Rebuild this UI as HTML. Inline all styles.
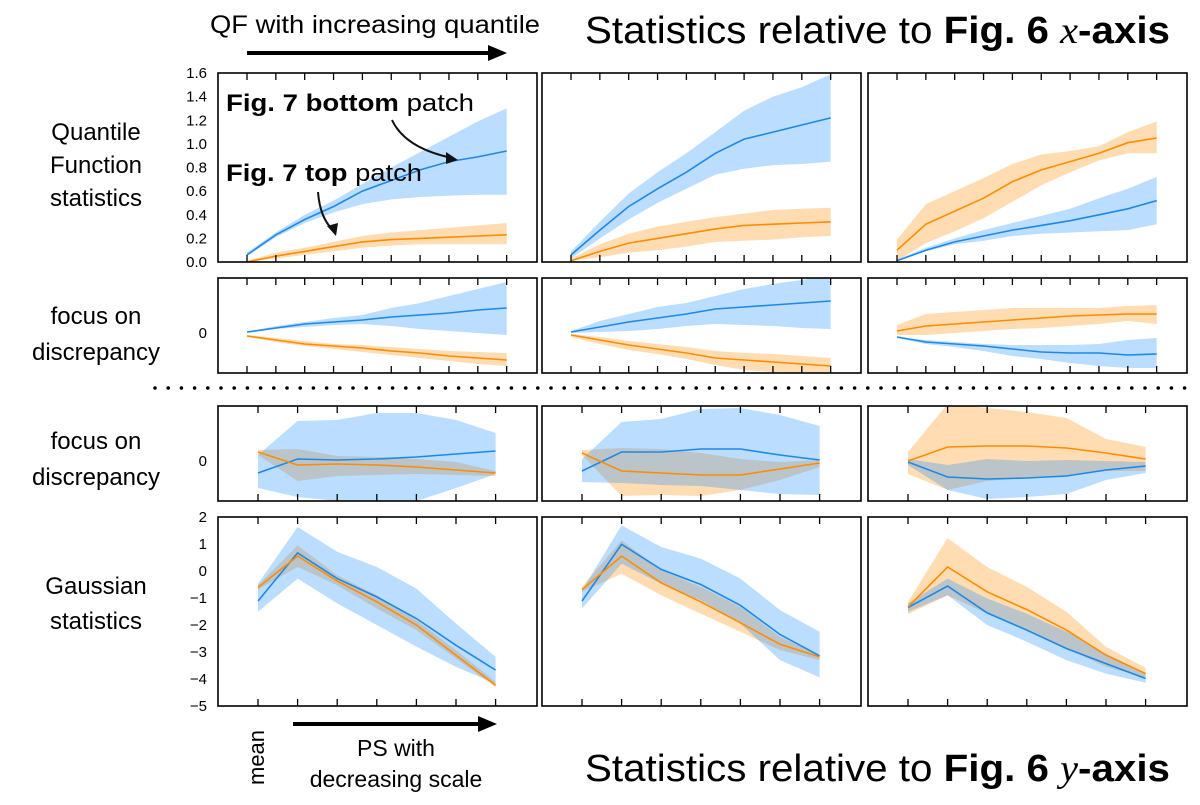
<!DOCTYPE html>
<html><head><meta charset="utf-8">
<style>
html,body{margin:0;padding:0;background:#fff;}
svg{display:block;font-family:"Liberation Sans",sans-serif;}
</style></head>
<body>
<svg id="fig" width="1200" height="805" viewBox="0 0 1200 805" xmlns="http://www.w3.org/2000/svg">
  <g id="marks"></g>
  <g>
    <text x="210" y="33" font-size="25" textLength="330" lengthAdjust="spacingAndGlyphs">QF with increasing quantile</text>
    <line x1="247" y1="53" x2="492" y2="53" stroke="#000" stroke-width="4"/>
    <polygon points="507,53 488,45 488,61" fill="#000"/>
    <text x="585" y="43" font-size="38" textLength="585" lengthAdjust="spacingAndGlyphs">Statistics relative to <tspan font-weight="bold">Fig. 6 </tspan><tspan font-family="Liberation Serif" font-style="italic">x</tspan><tspan font-weight="bold">-axis</tspan></text>
    <text x="585" y="781" font-size="38" textLength="585" lengthAdjust="spacingAndGlyphs">Statistics relative to <tspan font-weight="bold">Fig. 6 </tspan><tspan font-family="Liberation Serif" font-style="italic">y</tspan><tspan font-weight="bold">-axis</tspan></text>
    <text transform="translate(264,785) rotate(-90)" font-size="22">mean</text>
    <line x1="293" y1="724" x2="482" y2="724" stroke="#000" stroke-width="4"/>
    <polygon points="497,724 478,716 478,732" fill="#000"/>
    <text x="396" y="756" font-size="23" text-anchor="middle">PS with</text>
    <text x="396" y="787" font-size="23" text-anchor="middle">decreasing scale</text>
    <g font-size="24" text-anchor="middle">
      <text x="96" y="140">Quantile</text>
      <text x="96" y="173">Function</text>
      <text x="96" y="206">statistics</text>
      <text x="96" y="324">focus on</text>
      <text x="96" y="360">discrepancy</text>
      <text x="96" y="449">focus on</text>
      <text x="96" y="485">discrepancy</text>
      <text x="96" y="594">Gaussian</text>
      <text x="96" y="629">statistics</text>
    </g>
    <text x="226" y="111" font-size="24" textLength="248" lengthAdjust="spacingAndGlyphs"><tspan font-weight="bold">Fig. 7 bottom</tspan> patch</text>
    <text x="226" y="181" font-size="24" textLength="196" lengthAdjust="spacingAndGlyphs"><tspan font-weight="bold">Fig. 7 top</tspan> patch</text>
    <path d="M392,120 Q405,148 452,158" fill="none" stroke="#111" stroke-width="2"/>
    <polygon points="458,160 446,152 446,164" fill="#111"/>
    <path d="M318,192 Q320,218 333,230" fill="none" stroke="#111" stroke-width="2"/>
    <polygon points="336,236 327,226 338,223" fill="#111"/>
  </g>
</svg>
<script>
// ---------- data ----------
const row1Ticks = ["0.0","0.2","0.4","0.6","0.8","1.0","1.2","1.4","1.6"];
const row4Ticks = ["2","1","0","\u22121","\u22122","\u22123","\u22124","\u22125"];
// Row 1: Quantile function statistics (10 quantiles)
const r1c1BlueMean = [0.06,0.23,0.36,0.47,0.6,0.69,0.78,0.85,0.89,0.94];
const r1c1BlueHi   = [0.08,0.25,0.40,0.52,0.66,0.80,0.93,1.06,1.19,1.30];
const r1c1BlueLo   = [0.05,0.21,0.33,0.42,0.49,0.53,0.55,0.56,0.57,0.57];
const r1c1OrMean   = [0.0,0.05,0.09,0.13,0.17,0.19,0.2,0.21,0.22,0.23];
const r1c1OrHi     = [0.01,0.08,0.12,0.17,0.22,0.25,0.27,0.29,0.31,0.33];
const r1c1OrLo     = [0,0.03,0.06,0.09,0.12,0.14,0.15,0.15,0.15,0.15];
const r1c2BlueMean = [0.06,0.27,0.47,0.62,0.76,0.92,1.04,1.10,1.16,1.22];
const r1c2BlueHi   = [0.09,0.34,0.58,0.76,0.92,1.10,1.28,1.40,1.48,1.59];
const r1c2BlueLo   = [0.03,0.2,0.36,0.5,0.62,0.74,0.79,0.82,0.83,0.85];
const r1c2OrMean   = [0.01,0.09,0.16,0.2,0.24,0.28,0.31,0.32,0.33,0.34];
const r1c2OrHi     = [0.03,0.15,0.24,0.3,0.34,0.38,0.41,0.44,0.45,0.46];
const r1c2OrLo     = [0.01,0.04,0.08,0.1,0.13,0.17,0.18,0.19,0.21,0.22];
const r1c3BlueMean = [0.01,0.1,0.17,0.22,0.27,0.31,0.35,0.4,0.45,0.52];
const r1c3BlueHi   = [0.02,0.12,0.2,0.27,0.33,0.39,0.45,0.54,0.62,0.72];
const r1c3BlueLo   = [0.01,0.09,0.15,0.18,0.22,0.24,0.25,0.26,0.27,0.32];
const r1c3OrMean   = [0.1,0.32,0.43,0.54,0.68,0.78,0.85,0.92,1.01,1.05];
const r1c3OrHi     = [0.19,0.49,0.6,0.71,0.83,0.91,0.94,0.98,1.1,1.19];
const r1c3OrLo     = [0.01,0.16,0.26,0.37,0.51,0.65,0.76,0.86,0.92,0.92];
// Row 2: QF focus on discrepancy
const r2c1BlueMean = [0.01,0.05,0.09,0.11,0.13,0.16,0.18,0.2,0.23,0.25];
const r2c1BlueHi   = [0.01,0.07,0.11,0.15,0.18,0.25,0.3,0.37,0.44,0.51];
const r2c1BlueLo   = [0,0.04,0.06,0.08,0.09,0.07,0.04,0.02,0,-0.02];
const r2c1OrMean   = [-0.03,-0.07,-0.11,-0.13,-0.15,-0.18,-0.2,-0.23,-0.25,-0.27];
const r2c1OrHi     = [-0.02,-0.05,-0.08,-0.11,-0.12,-0.14,-0.16,-0.18,-0.19,-0.2];
const r2c1OrLo     = [-0.04,-0.09,-0.13,-0.16,-0.19,-0.22,-0.25,-0.28,-0.31,-0.33];
const r2c2BlueMean = [0.01,0.06,0.11,0.15,0.19,0.24,0.26,0.28,0.3,0.32];
const r2c2BlueHi   = [0.02,0.12,0.19,0.26,0.3,0.37,0.44,0.49,0.53,0.58];
const r2c2BlueLo   = [0,0.01,0.02,0.04,0.07,0.09,0.08,0.07,0.05,0.04];
const r2c2OrMean   = [-0.02,-0.07,-0.12,-0.16,-0.2,-0.25,-0.27,-0.29,-0.31,-0.33];
const r2c2OrHi     = [-0.01,-0.04,-0.08,-0.11,-0.14,-0.18,-0.2,-0.21,-0.23,-0.25];
const r2c2OrLo     = [-0.04,-0.11,-0.17,-0.21,-0.26,-0.32,-0.37,-0.39,-0.4,-0.41];
const r2c3BlueMean = [-0.04,-0.09,-0.11,-0.13,-0.16,-0.19,-0.2,-0.2,-0.22,-0.21];
const r2c3BlueHi   = [-0.04,-0.07,-0.09,-0.11,-0.12,-0.12,-0.12,-0.11,-0.07,-0.05];
const r2c3BlueLo   = [-0.05,-0.11,-0.14,-0.18,-0.23,-0.26,-0.3,-0.33,-0.35,-0.35];
const r2c3OrMean   = [0.02,0.07,0.09,0.11,0.13,0.15,0.17,0.18,0.19,0.19];
const r2c3OrHi     = [0.08,0.19,0.21,0.23,0.25,0.25,0.25,0.25,0.27,0.28];
const r2c3OrLo     = [-0.02,-0.02,0,0.02,0.04,0.05,0.07,0.09,0.12,0.09];
// Row 3: PS focus on discrepancy (mean + 6 scales)
const r3c1BlueMean = [-0.12,0.02,0.01,0.02,0.04,0.07,0.1];
const r3c1BlueHi   = [0.06,0.4,0.41,0.48,0.48,0.41,0.28];
const r3c1BlueLo   = [-0.27,-0.36,-0.4,-0.41,-0.4,-0.27,-0.13];
const r3c1OrMean   = [0.09,-0.04,-0.03,-0.04,-0.06,-0.09,-0.12];
const r3c1OrHi     = [0.11,0.12,0.05,0.04,0.02,-0.01,-0.1];
const r3c1OrLo     = [0.06,-0.2,-0.15,-0.14,-0.13,-0.14,-0.15];
const r3c2BlueMean = [-0.1,0.09,0.09,0.12,0.12,0.06,0.01];
const r3c2BlueHi   = [0.02,0.39,0.42,0.52,0.53,0.46,0.35];
const r3c2BlueLo   = [-0.21,-0.22,-0.24,-0.25,-0.29,-0.33,-0.34];
const r3c2OrMean   = [0.08,-0.1,-0.12,-0.14,-0.14,-0.08,-0.02];
const r3c2OrHi     = [0.11,0.13,0.12,0.08,0.02,-0.01,0.01];
const r3c2OrLo     = [0.06,-0.35,-0.34,-0.35,-0.29,-0.19,-0.06];
const r3c3BlueMean = [-0.01,-0.16,-0.18,-0.17,-0.15,-0.09,-0.05];
const r3c3BlueHi   = [0.02,-0.04,0.02,0,0.01,0,-0.01];
const r3c3BlueLo   = [-0.04,-0.29,-0.38,-0.36,-0.33,-0.19,-0.12];
const r3c3OrMean   = [0,0.14,0.15,0.15,0.13,0.08,0.02];
const r3c3OrHi     = [0.09,0.57,0.53,0.49,0.43,0.22,0.14];
const r3c3OrLo     = [-0.13,-0.29,-0.2,-0.17,-0.15,-0.1,-0.1];
// Row 4: Gaussian statistics
const r4c1BlueMean = [-1.11,0.67,-0.28,-0.96,-1.76,-2.75,-3.67];
const r4c1BlueHi   = [-0.47,1.63,0.71,0.15,-0.65,-1.95,-3.18];
const r4c1BlueLo   = [-1.51,-0.28,-1.2,-2.0,-2.8,-3.55,-4.17];
const r4c1OrMean   = [-0.61,0.55,-0.37,-1.14,-2.0,-3.12,-4.23];
const r4c1OrHi     = [-0.53,0.95,-0.16,-0.9,-1.82,-2.93,-4.1];
const r4c1OrLo     = [-0.69,0.15,-0.53,-1.39,-2.19,-3.24,-4.31];
const r4c2BlueMean = [-1.11,0.99,0.06,-0.5,-1.27,-2.35,-3.14];
const r4c2BlueHi   = [-0.71,1.69,0.89,0.46,-0.28,-1.45,-2.25];
const r4c2BlueLo   = [-1.39,0.27,-0.47,-1.08,-1.95,-3.3,-3.94];
const r4c2OrMean   = [-0.69,0.55,-0.44,-1.14,-1.92,-2.71,-3.18];
const r4c2OrHi     = [-0.59,1.14,0.03,-0.59,-1.33,-2.44,-3.12];
const r4c2OrLo     = [-0.77,-0.1,-0.9,-1.58,-2.25,-2.93,-3.3];
const r4c3BlueMean = [-1.35,-0.56,-1.55,-2.19,-2.87,-3.43,-3.98];
const r4c3BlueHi   = [-1.2,-0.28,-1.02,-1.58,-2.25,-3.06,-3.8];
const r4c3BlueLo   = [-1.51,-0.9,-2.0,-2.62,-3.3,-3.8,-4.14];
const r4c3OrMean   = [-1.33,0.15,-0.77,-1.43,-2.19,-3.12,-3.8];
const r4c3OrHi     = [-1.14,1.22,0.15,-0.59,-1.51,-2.81,-3.59];
const r4c3OrLo     = [-1.6,-0.9,-1.58,-2.19,-2.87,-3.55,-3.94];

// ---------- layout ----------
const NS = "http://www.w3.org/2000/svg";
const marks = document.getElementById("marks");
const colLeft = [218, 542, 868];
const colW = 319;
const rows = [
  {top:73, bot:262, ymin:0, ymax:1.6, n:10, off:29, step:28.85},
  {top:278, bot:373, ymin:-0.4, ymax:0.55, n:10, off:29, step:28.85},
  {top:406, bot:501, ymin:-0.4, ymax:0.55, n:7, off:40, step:39.6},
  {top:517, bot:706, ymin:-5, ymax:2, n:7, off:40, step:39.6}
];
const panels = [
  [[r1c1BlueMean,r1c1BlueHi,r1c1BlueLo,r1c1OrMean,r1c1OrHi,r1c1OrLo],
   [r1c2BlueMean,r1c2BlueHi,r1c2BlueLo,r1c2OrMean,r1c2OrHi,r1c2OrLo],
   [r1c3BlueMean,r1c3BlueHi,r1c3BlueLo,r1c3OrMean,r1c3OrHi,r1c3OrLo]],
  [[r2c1BlueMean,r2c1BlueHi,r2c1BlueLo,r2c1OrMean,r2c1OrHi,r2c1OrLo],
   [r2c2BlueMean,r2c2BlueHi,r2c2BlueLo,r2c2OrMean,r2c2OrHi,r2c2OrLo],
   [r2c3BlueMean,r2c3BlueHi,r2c3BlueLo,r2c3OrMean,r2c3OrHi,r2c3OrLo]],
  [[r3c1BlueMean,r3c1BlueHi,r3c1BlueLo,r3c1OrMean,r3c1OrHi,r3c1OrLo],
   [r3c2BlueMean,r3c2BlueHi,r3c2BlueLo,r3c2OrMean,r3c2OrHi,r3c2OrLo],
   [r3c3BlueMean,r3c3BlueHi,r3c3BlueLo,r3c3OrMean,r3c3OrHi,r3c3OrLo]],
  [[r4c1BlueMean,r4c1BlueHi,r4c1BlueLo,r4c1OrMean,r4c1OrHi,r4c1OrLo],
   [r4c2BlueMean,r4c2BlueHi,r4c2BlueLo,r4c2OrMean,r4c2OrHi,r4c2OrLo],
   [r4c3BlueMean,r4c3BlueHi,r4c3BlueLo,r4c3OrMean,r4c3OrHi,r4c3OrLo]]
];
function mk(tag, attrs, parent){
  const e = document.createElementNS(NS, tag);
  for (const k in attrs) e.setAttribute(k, attrs[k]);
  (parent||marks).appendChild(e);
  return e;
}
function xScale(r,c,i){ const R=rows[r]; return colLeft[c]+R.off+i*R.step; }
function yScale(r,v){ const R=rows[r]; return R.bot-(v-R.ymin)/(R.ymax-R.ymin)*(R.bot-R.top); }
function bandPath(r,c,hi,lo){
  let d="";
  hi.forEach((v,i)=>{ d+=(i?"L":"M")+xScale(r,c,i).toFixed(1)+","+yScale(r,v).toFixed(1); });
  for(let i=lo.length-1;i>=0;i--) d+="L"+xScale(r,c,i).toFixed(1)+","+yScale(r,lo[i]).toFixed(1);
  return d+"Z";
}
function linePath(r,c,arr){
  return arr.map((v,i)=>(i?"L":"M")+xScale(r,c,i).toFixed(1)+","+yScale(r,v).toFixed(1)).join("");
}
// dotted separator
for(let x=155;x<=1190;x+=13.2){
  const d = mk("circle",{cx:x.toFixed(1),cy:388,r:1.8,fill:"#000"});
  
  
}
for(let r=0;r<4;r++){
  for(let c=0;c<3;c++){
    const R=rows[r];
    const g = mk("g",{});
    
    
    const cp = mk("clipPath",{id:"cp"+r+c},g);
    mk("rect",{x:colLeft[c],y:R.top,width:colW,height:R.bot-R.top},cp);
    const inner = mk("g",{"clip-path":"url(#cp"+r+c+")"},g);
    const [bm,bh,bl,om,oh,ol] = panels[r][c];
    const ob = mk("path",{d:bandPath(r,c,oh,ol),fill:"#ff8c00","fill-opacity":0.3},inner);
    
    
    const bb = mk("path",{d:bandPath(r,c,bh,bl),fill:"#1e90ff","fill-opacity":0.3},inner);
    
    
    const ln1 = mk("path",{d:linePath(r,c,bm),fill:"none",stroke:"#1e88e5","stroke-width":1.6},inner);
    
    
    const ln2 = mk("path",{d:linePath(r,c,om),fill:"none",stroke:"#ff8c00","stroke-width":1.6},inner);
    
    
    for(let i=0;i<R.n;i++){
      const x=xScale(r,c,i);
      const t1 = mk("line",{x1:x,y1:R.top,x2:x,y2:R.top+7,stroke:"#000","stroke-width":1.3},g);
      
      
      const t2 = mk("line",{x1:x,y1:R.bot,x2:x,y2:R.bot-7,stroke:"#000","stroke-width":1.3},g);
      
      
    }
    const fr = mk("rect",{x:colLeft[c],y:R.top,width:colW,height:R.bot-R.top,fill:"none",stroke:"#000","stroke-width":1.6},g);
    
    
  }
}
// y tick labels
row1Ticks.forEach((s,i)=>{
  const t = mk("text",{x:207,y:(yScale(0,parseFloat(s))+5).toFixed(1),"font-size":15,"text-anchor":"end"});
  t.textContent=s;
  
  
});
row4Ticks.forEach((s,i)=>{
  const v = parseFloat(s.replace("\u2212","-"));
  const t = mk("text",{x:207,y:(yScale(3,v)+5).toFixed(1),"font-size":15,"text-anchor":"end"});
  t.textContent=s;
  
  
});
[1,2].forEach(r=>{
  const t = mk("text",{x:207,y:(yScale(r,0)+5).toFixed(1),"font-size":15,"text-anchor":"end"});
  t.textContent="0";
  
  
});
</script>
</body></html>
